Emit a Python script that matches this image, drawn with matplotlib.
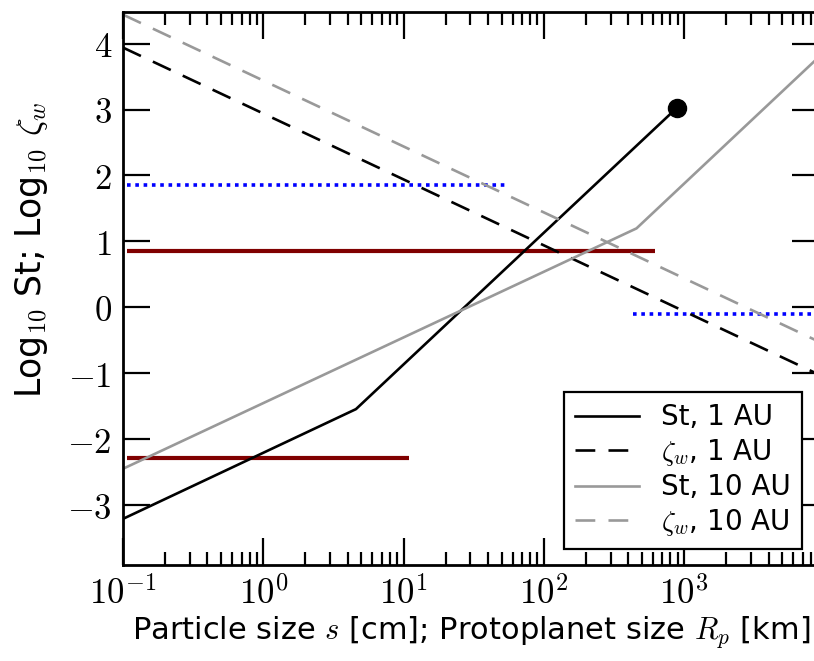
import numpy as np
import matplotlib
matplotlib.use('Agg')
import matplotlib.pyplot as plt

# piecewise lines (x in cm/km, y = log10 value)
st1_x = [0.1, 4.58, 893.0]
st1_y = [-3.21, -1.545, 3.03]
st10_x = [0.1, 458.0, 1.0e4]
st10_y = [-2.45, 1.197, 3.875]
zw1_x = [0.1, 1.0e4]
zw1_y = [3.94, -1.06]
zw10_x = [0.1, 1.0e4]
zw10_y = [4.44, -0.56]

# horizontal reference levels: (y, x_start, x_end)
blue_levels = [(1.86, 0.106, 55.5), (-0.095, 432.0, 1.0e4)]
red_levels = [(0.853, 0.106, 620.0), (-2.28, 0.106, 10.9)]

xticks = [0.1, 1, 10, 100, 1000]
xtick_labels = [r'$10^{-1}$', r'$10^{0}$', r'$10^{1}$', r'$10^{2}$', r'$10^{3}$']
yticks = [-3, -2, -1, 0, 1, 2, 3, 4]
ytick_labels = [r'$-3$', r'$-2$', r'$-1$', r'$0$', r'$1$', r'$2$', r'$3$', r'$4$']

plt.rcParams['mathtext.fontset'] = 'cm'
plt.rcParams['font.family'] = 'DejaVu Sans'

fig = plt.figure(figsize=(8.14, 6.61), dpi=100)
ax = fig.add_axes([123 / 814, 1 - 565 / 661, (819 - 123) / 814, (565 - 12) / 661])

gray = '#999999'
lw = 1.9
dash = (7.5, 5)

for y, x0, x1 in red_levels:
    ax.plot([x0, x1], [y, y], color='#800000', lw=3.0, solid_capstyle='butt')
for y, x0, x1 in blue_levels:
    ax.plot([x0, x1], [y, y], color='#0000ff', lw=2.6, linestyle=(0, (1, 1.3)))

ax.plot(st1_x, st1_y, color='black', lw=lw, label='St, 1 AU')
ax.plot(zw1_x, zw1_y, color='black', lw=lw, dashes=dash, label=r'$\zeta_w$, 1 AU')
ax.plot(st10_x, st10_y, color=gray, lw=lw, label='St, 10 AU')
ax.plot(zw10_x, zw10_y, color=gray, lw=lw, dashes=dash, label=r'$\zeta_w$, 10 AU')
ax.plot([st1_x[-1]], [st1_y[-1]], 'o', color='black', markersize=13)

ax.set_xscale('log')
ax.set_xlim(0.1, 10 ** 3.962)
ax.set_ylim(-3.91, 4.48)
ax.set_xticks(xticks)
ax.set_xticklabels(xtick_labels, fontsize=25)
ax.set_yticks(yticks)
ax.set_yticklabels(ytick_labels, fontsize=25)
ax.tick_params(which='major', direction='in', length=19.5, width=1.6,
               top=True, right=True, pad=8)
ax.tick_params(which='minor', direction='in', length=9.5, width=1.6,
               top=True, right=True)
ax.tick_params(axis='y', which='minor', left=False, right=False)
for sp in ax.spines.values():
    sp.set_linewidth(2.0)

ax.set_xlabel(r'Particle size $s$ [cm]; Protoplanet size $R_p$ [km]', fontsize=22, labelpad=2)
ax.set_ylabel(r'Log$_{10}$ St; Log$_{10}$ $\zeta_w$', fontsize=25)
ax.yaxis.set_label_coords(-0.105, 0.57)

leg = ax.legend(loc='lower right', bbox_to_anchor=((802 - 123) / 696, (565 - 549) / 553),
                fontsize=20, handlelength=2.3, fancybox=False, framealpha=1,
                edgecolor='black', borderpad=0.4, labelspacing=0.2, handletextpad=0.8,
                borderaxespad=0)
leg.get_frame().set_linewidth(1.6)

fig.savefig('out.png', dpi=100)
